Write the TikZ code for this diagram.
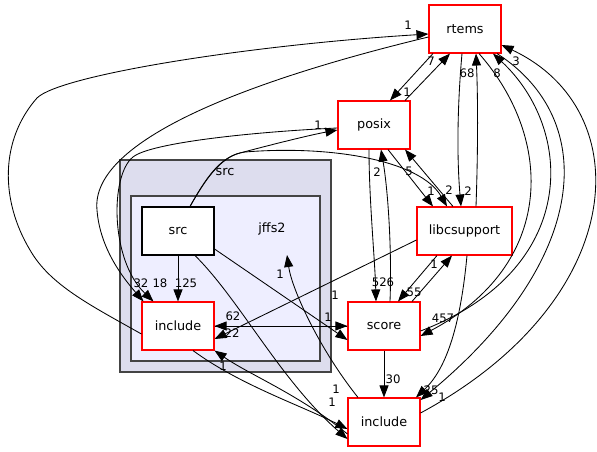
\documentclass[tikz,border=0pt]{standalone}
\usepackage{fontspec}
\setmainfont{DejaVu Sans}
\usetikzlibrary{arrows.meta}
\definecolor{clouter}{HTML}{DDDDEE}
\definecolor{clinner}{HTML}{EEEEFF}
\definecolor{clborder}{HTML}{444444}
\begin{document}
\begin{tikzpicture}[x=1pt,y=-1pt,
  txt/.style={font=\fontsize{12.8}{14}\selectfont},
  dirbox/.style={txt,draw=red,fill=white,line width=1.1pt,minimum width=72pt,minimum height=48pt,inner sep=0pt},
  srcbox/.style={txt,draw=black,fill=white,line width=1.1pt,minimum width=72pt,minimum height=48pt,inner sep=0pt},
  clbox/.style={draw=clborder,line width=1.3pt,inner sep=0pt},
  dep/.style={draw=black,line width=0.85pt,-{Triangle[length=12pt,width=9pt]}},
  lbl/.style={font=\fontsize{11.7}{13}\selectfont,inner sep=0pt}]
\useasboundingbox (0,0) rectangle (597,452);
% clusters
\node[clbox,fill=clouter,minimum width=211pt,minimum height=212pt] (clsrc) at (225.5,266) {};
\node[txt,inner sep=0pt] (clsrclbl) at (225,172) {src};
\node[clbox,fill=clinner,minimum width=189pt,minimum height=165pt] (cljffs) at (225.5,278.5) {};
\node[txt,inner sep=0pt] (jffs2) at (272,229) {jffs2};
\coordinate (jffsin) at (287,255);
% nodes
\node[dirbox] (rtems) at (465,29) {rtems};
\node[dirbox] (posix) at (374,125) {posix};
\node[dirbox,minimum width=95pt] (libc) at (464.5,231) {libcsupport};
\node[dirbox] (score) at (384,326) {score};
\node[dirbox] (incB) at (384,422) {include};
\node[srcbox] (src) at (178,231) {src};
\node[dirbox] (incA) at (178,326) {include};
% edges
\draw[dep] (src.south) -- (incA.north);
\draw[dep] ([yshift=-8pt]incA.west) .. controls (90,305) and (50,285) .. (30,250) .. controls (0,200) and (0,140) .. (37,98) .. controls (60,75) and (250,45) .. ([yshift=-5pt]rtems.west);
\draw[dep] ([yshift=-8pt]rtems.west) .. controls (250,80) and (90,140) .. (97,210) .. controls (100,250) and (125,280) .. ([xshift=2pt]incA.north west);
\draw[dep] ([yshift=-3pt]posix.west) .. controls (250,132) and (150,143) .. (133,157) .. controls (110,175) and (110,260) .. ([xshift=12pt]incA.north west);
\draw[dep] ([xshift=12pt]src.north) .. controls (205,180) and (220,158) .. (240,153) .. controls (270,145) and (310,135) .. ([yshift=-5pt]posix.west);
\draw[dep] ([xshift=12pt]src.north) .. controls (205,180) and (220,155) .. (245,152) .. controls (330,145) and (420,160) .. ([xshift=-17.5pt]libc.north);
\draw[dep] ([yshift=-18pt]src.east) -- ([yshift=-14pt]score.west);
\draw[dep] ([xshift=17pt]src.south) .. controls (240,300) and (280,380) .. ([yshift=-17pt]incB.west);
\draw[dep] (incA.east) -- (score.west);
\draw[dep] (score.west) -- (incA.east);
\draw[dep] ([yshift=-9pt]libc.west) -- ([yshift=-13pt]incA.east);
\draw[dep] ([xshift=15pt]incA.south) .. controls (240,385) and (300,405) .. ([yshift=-7pt]incB.west);
\draw[dep] ([yshift=-12pt]incB.west) .. controls (300,395) and (250,375) .. (incA.south east);
\draw[dep] ([xshift=-26pt]incB.north) .. controls (320,350) and (292,290) .. (jffsin);
\draw[dep] ([xshift=-32pt]rtems.south) -- ([xshift=16pt]posix.north);
\draw[dep] ([xshift=31pt]posix.north) -- ([xshift=-15pt]rtems.south);
\draw[dep] ([xshift=-3pt]rtems.south) .. controls (457,110) and (457,160) .. ([xshift=-3.5pt]libc.north);
\draw[dep] ([xshift=11.5pt]libc.north) .. controls (478,150) and (478,100) .. ([xshift=11pt]rtems.south);
\draw[dep] ([xshift=14pt]rtems.south) .. controls (555,140) and (555,265) .. ([yshift=-10pt]score.east);
\draw[dep] ([yshift=-5pt]score.east) .. controls (580,270) and (575,130) .. ([xshift=28pt]rtems.south);
\draw[dep] ([xshift=32pt]rtems.south) .. controls (600,120) and (590,260) .. ([yshift=22pt]incB.east);
\draw[dep] ([yshift=9pt]incB.east) .. controls (630,300) and (640,110) .. ([yshift=-16pt]rtems.east);
\draw[dep] ([xshift=-27.5pt]libc.south) -- ([xshift=14pt]score.north);
\draw[dep] ([xshift=28pt]score.north) -- ([xshift=-12.5pt]libc.south);
\draw[dep] ([xshift=2.5pt]libc.south) .. controls (460,330) and (445,370) .. ([xshift=32pt]incB.north);
\draw[dep] (score.south) -- (incB.north);
\draw[dep] ([xshift=-5pt]posix.south) .. controls (369,200) and (375,260) .. ([xshift=-8pt]score.north);
\draw[dep] ([xshift=6pt]score.north) .. controls (392,250) and (388,190) .. ([xshift=7pt]posix.south);
\draw[dep] ([xshift=14pt]posix.south) -- ([xshift=-31.5pt]libc.north);
\draw[dep] ([xshift=-11.5pt]libc.north) -- ([xshift=31pt]posix.south);
% labels
\node[lbl] (l1) at (408,25) {1};
\node[lbl] (l2) at (318,125) {1};
\node[lbl] (l3) at (141,283) {32};
\node[lbl] (l4) at (160,283) {18};
\node[lbl] (l5) at (186,283) {125};
\node[lbl] (l6) at (280,274) {1};
\node[lbl] (l7) at (335,295) {1};
\node[lbl] (l8) at (233,316) {62};
\node[lbl] (l9) at (328,317) {1};
\node[lbl] (l10) at (232,333) {22};
\node[lbl] (l11) at (223,366) {1};
\node[lbl] (l12) at (336,389) {1};
\node[lbl] (l13) at (332,402) {1};
\node[lbl] (l14) at (393,379) {30};
\node[lbl] (l15) at (383,282) {526};
\node[lbl] (l16) at (414,292) {55};
\node[lbl] (l17) at (434,264) {1};
\node[lbl] (l18) at (443,318) {457};
\node[lbl] (l19) at (377,172) {2};
\node[lbl] (l20) at (409,171) {5};
\node[lbl] (l21) at (431,191) {1};
\node[lbl] (l22) at (449,190) {2};
\node[lbl] (l23) at (468,191) {2};
\node[lbl] (l24) at (467,73) {68};
\node[lbl] (l25) at (497,73) {8};
\node[lbl] (l26) at (516,61) {3};
\node[lbl] (l27) at (431,61) {7};
\node[lbl] (l28) at (407,92) {1};
\node[lbl] (l29) at (431,390) {25};
\node[lbl] (l30) at (442,397) {1};
\end{tikzpicture}
\end{document}
